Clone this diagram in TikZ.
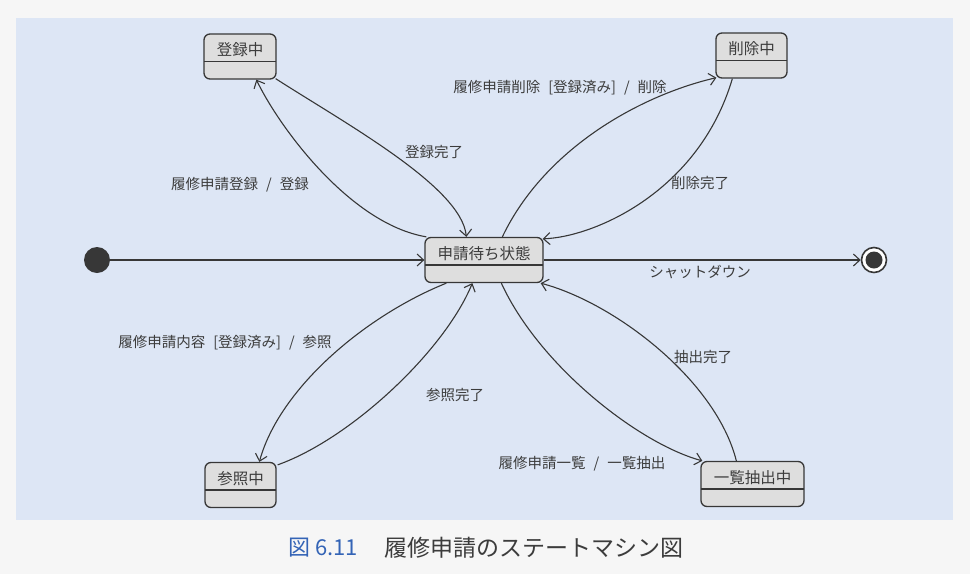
\documentclass[tikz,border=0pt]{standalone}
\usepackage{fontspec}
\setmainfont{Noto Sans CJK JP}
\usetikzlibrary{arrows.meta}

\definecolor{pagebg}{RGB}{246,246,246}
\definecolor{panel}{RGB}{221,230,245}
\definecolor{linec}{RGB}{55,55,55}
\definecolor{statefill}{RGB}{222,222,222}
\definecolor{textc}{RGB}{60,60,60}
\definecolor{capblue}{RGB}{52,100,182}
\newcommand{\tsp}{\hspace{.55em}}

\begin{document}
\begin{tikzpicture}[x=1pt, y=-1pt,
  statebox/.style={draw=linec, line width=1.3pt, rounded corners=6pt, fill=statefill,
    minimum height=45pt, inner sep=0pt, text=textc, text height=21.5pt, text depth=23.5pt,
    font=\fontsize{15.5pt}{18pt}\selectfont,
    path picture={\draw[linec, line width=1.3pt]
      ([yshift=-27.5pt]path picture bounding box.north west) --
      ([yshift=-27.5pt]path picture bounding box.north east);}},
  initdot/.style={circle, fill=linec, minimum size=26pt, inner sep=0pt},
  enddot/.style={circle, draw=linec, line width=1.6pt, fill=white, minimum size=25pt, inner sep=0pt},
  arr/.style={draw=linec, line width=1.1pt, -{Straight Barb[length=6.5pt, width=12pt]}},
  guard/.style={text=textc, inner sep=1pt, font=\fontsize{14.5pt}{17pt}\selectfont}]

%background
\fill[pagebg] (0,0) rectangle (970,574);
\fill[panel] (16,18) rectangle (953,520);
\useasboundingbox (0,0) rectangle (970,574);

%states
\node[statebox, minimum width=72pt] (reg) at (240,56.5) {登録中};
\node[statebox, minimum width=71pt] (del) at (751.5,55.5) {削除中};
\node[statebox, minimum width=118pt] (wait) at (484,260) {申請待ち状態};
\node[statebox, minimum width=71pt] (ref) at (240.5,485) {参照中};
\node[statebox, minimum width=103pt] (list) at (752.5,484) {一覧抽出中};

%pseudo states
\node[initdot] (start) at (97,260) {};
\node[enddot] (stop) at (874,260) {};
\fill[linec] (stop) circle (8.5);

%transitions
\draw[arr] (start.east) -- (wait.west);
\draw[arr] (wait.east) -- (stop.west);

\draw[arr] ([xshift=2pt]wait.north west) .. controls +(-77,-13) and +(22,46) .. ([xshift=53pt]reg.south west);
\draw[arr] ([xshift=-1pt,yshift=1pt]reg.south east) .. controls +(70,45) and +(-5,-50) .. ([xshift=42pt]wait.north west);

\draw[arr] ([xshift=78pt]wait.north west) .. controls +(42,-88) and +(-77,18) .. ([xshift=1pt,yshift=1pt]del.south west);
\draw[arr] ([xshift=17pt]del.south west) .. controls +(-33,112) and +(53,-2) .. ([xshift=-1pt,yshift=-2pt]wait.north east);

\draw[arr] ([xshift=22pt]wait.south west) .. controls +(-82,33) and +(20,-73) .. ([xshift=55pt]ref.north west);
\draw[arr] ([xshift=1pt,yshift=-3pt]ref.north east) .. controls +(73,-26) and +(-28,68) .. ([xshift=48pt]wait.south west);

\draw[arr] ([xshift=77pt]wait.south west) .. controls +(38,83) and +(-63,-17) .. ([xshift=2pt]list.north west);
\draw[arr] ([xshift=36pt]list.north west) .. controls +(-20,-80) and +(75,20) .. ([xshift=-3pt]wait.south east);

%labels
\node[guard] (lreg) at (240,185) {履修申請登録\tsp{}/\tsp{}登録};
\node[guard] (lregdone) at (434,152) {登録完了};
\node[guard] (ldel) at (560,88) {履修申請削除\tsp{}[登録済み]\tsp{}/\tsp{}削除};
\node[guard] (ldeldone) at (700,183) {削除完了};
\node[guard] (lstop) at (700,272) {シャットダウン};
\node[guard] (lref) at (225,343) {履修申請内容\tsp{}[登録済み]\tsp{}/\tsp{}参照};
\node[guard] (lrefdone) at (455,395) {参照完了};
\node[guard] (llist) at (582,464) {履修申請一覧\tsp{}/\tsp{}一覧抽出};
\node[guard] (llistdone) at (703,357) {抽出完了};

%caption
\node[text=capblue, font=\fontsize{22pt}{26pt}\selectfont] (capnum) at (323,548) {図 6.11};
\node[text=textc, font=\fontsize{23pt}{27pt}\selectfont] (captxt) at (534,548) {履修申請のステートマシン図};

\end{tikzpicture}
\end{document}
